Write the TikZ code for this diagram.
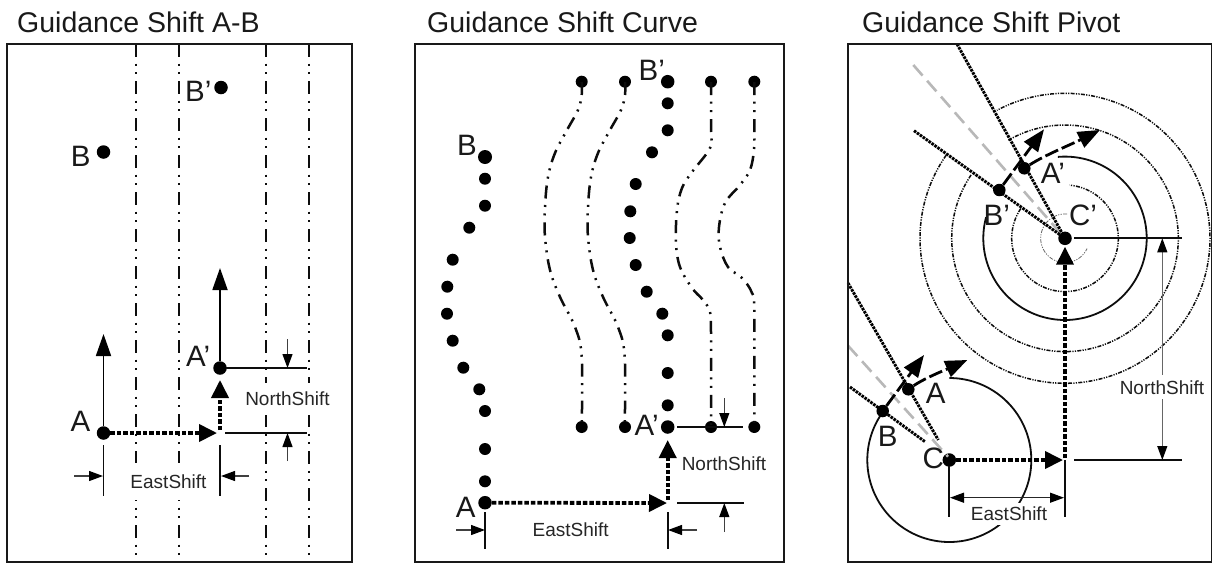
\documentclass[tikz,border=0pt]{standalone}
\usepackage{fontspec}
\setmainfont{Liberation Sans}
\usetikzlibrary{arrows.meta}
\tikzset{
 x=1pt,y=-1pt,
 panel/.style={draw=black!90,line width=1.8pt},
 dot/.style={circle,fill=black,inner sep=0pt,minimum size=13.5pt,draw=none},
 title/.style={anchor=base west,inner sep=0pt,font=\fontsize{28.5}{30}\selectfont,text=black!90},
 big/.style={inner sep=0pt,font=\fontsize{29.5}{31}\selectfont,text=black!90},
 small/.style={inner sep=0pt,font=\fontsize{19}{21}\selectfont,text=black!85},
 wbox/.style={small,fill=white,inner xsep=2pt},
 guide/.style={line width=2.9pt,black!95,dash pattern=on 13pt off 6.5pt on 2pt off 6.5pt on 2pt off 7pt},
 guidecurve/.style={line width=2.5pt,black!95,dash pattern=on 13pt off 6.5pt on 2pt off 6.5pt on 2pt off 7pt},
 guidethin/.style={line width=1.5pt,black!95,dash pattern=on 4pt off 1.3pt on 1.2pt off 1.3pt on 1.2pt off 1.3pt},
 guidefaint/.style={line width=.8pt,black!60,dash pattern=on 4pt off 1.3pt on 1.2pt off 1.3pt on 1.2pt off 1.3pt},
 solidarrow/.style={line width=1.8pt,-{Triangle[length=22pt,width=15pt]}},
 shiftarrow/.style={line width=3.8pt,dash pattern=on 4.5pt off 2pt,-{Triangle[length=18pt,width=17pt]}},
 ext/.style={line width=1.7pt,black!95},
 dimarrow/.style={line width=1.2pt,black!75,-{Triangle[length=14pt,width=10pt,fill=black,color=black]}},
 dimboth/.style={line width=1.2pt,black!60,{Triangle[length=14pt,width=10pt,fill=black,color=black]}-{Triangle[length=14pt,width=10pt,fill=black,color=black]}},
 radial/.style={line width=2.9pt,black,dash pattern=on 2.6pt off 1pt},
 grayline/.style={line width=2.6pt,black!28,dash pattern=on 14pt off 7pt},
 movearrow/.style={line width=2.8pt,dash pattern=on 14pt off 4pt,-{Triangle[length=22pt,width=17pt]}},
 ring/.style={line width=1.8pt,black!95},
}
% centre x, centre y, radius, start angle, end angle (screen angles, counter-clockwise), style
\newcommand{\ringarc}[6]{\draw[#6] plot[domain=#4:#5,samples=180,smooth] ({#1+#3*cos(\x)},{#2-#3*sin(\x)});}
\begin{document}
\begin{tikzpicture}
\useasboundingbox (0,0) rectangle (1212,563);
\fill[white] (0,0) rectangle (1212,563);
% titles
\node[title] (t1) at (17,32) {Guidance Shift A-B};
\node[title] (t2) at (427,32) {Guidance Shift Curve};
\node[title] (t3) at (862,32) {Guidance Shift Pivot};
% --- panel 1 ---
\foreach \xx in {136,179,266,309}{\draw[guide] (\xx,44) -- (\xx,562);}
\node[wbox,minimum height=37pt,minimum width=80pt] (es1) at (168.5,481.5) {EastShift};
\node[wbox,minimum height=32pt,minimum width=88pt] (ns1) at (287.5,399) {NorthShift};
\draw[panel] (7,44) rectangle (352,562);
\node[dot] (a1) at (103.5,433) {};
\node[dot] (a1p) at (220,368) {};
\node[dot] (b1) at (103.5,152) {};
\node[dot] (b1p) at (221,87.5) {};
\node[big] (la1) at (80.5,421) {A};
\node[big] (lb1) at (80.7,156.7) {B};
\node[big,anchor=west] (lb1p) at (185,91) {B’};
\node[big,anchor=west] (la1p) at (186,356) {A’};
\coordinate (a1up) at (103.5,334);
\coordinate (a1pup) at (220,268);
\coordinate (a1e) at (217,433);
\coordinate (a1s) at (220,430);
\coordinate (a1n) at (220,380);
\draw[solidarrow] (a1) -- (a1up);
\draw[solidarrow] (a1p) -- (a1pup);
\draw[shiftarrow] (a1) -- (a1e);
\draw[shiftarrow] (a1s) -- (a1n);
\coordinate (p1a) at (226,368); \coordinate (p1b) at (307,368);
\coordinate (p1c) at (225,433); \coordinate (p1d) at (307,433);
\draw[ext] (p1a) -- (p1b);
\draw[ext] (p1c) -- (p1d);
\coordinate (p1e) at (287.5,339); \coordinate (p1f) at (287.5,368);
\coordinate (p1g) at (287.5,461); \coordinate (p1h) at (287.5,433);
\draw[dimarrow] (p1e) -- (p1f);
\draw[dimarrow] (p1g) -- (p1h);
\coordinate (p1i) at (103.5,445); \coordinate (p1j) at (103.5,496);
\coordinate (p1k) at (220,445); \coordinate (p1l) at (220,496);
\draw[ext] (p1i) -- (p1j);
\draw[ext,line width=2.2pt] (p1k) -- (p1l);
\coordinate (p1m) at (74,476); \coordinate (p1n) at (103,476);
\coordinate (p1o) at (249,476); \coordinate (p1p) at (221,476);
\draw[dimarrow] (p1m) -- (p1n);
\draw[dimarrow] (p1o) -- (p1p);
% --- panel 2 ---
\draw[panel] (415,44) rectangle (784,562);
\node[dot,minimum size=14pt] (m0) at (485,157) {};
\foreach \i/\xx/\yy in {2/485/178.7,3/485/205.7,4/469.3/227.7,5/452.7/259.7,6/447.3/286.7,7/447/313.7,8/452.7/340.7,9/463.3/367.7,10/479.3/389.3,11/485/411,12/485/449,13/485/481.3}{
  \node[dot,minimum size=12pt] (m\i) at (\xx,\yy) {};}
\node[dot] (a2) at (485,502.7) {};
\foreach \i/\xx/\yy in {1/667.7/103.3,2/667.7/130.3,3/652/152.3,4/635.7/184,5/630.3/211.3,6/629.7/238,7/635.7/265,8/646.7/291.7,9/662.3/313.7,10/667.7/335.3,11/667.7/373,12/667.7/405.3}{
  \node[dot,minimum size=12pt] (n\i) at (\xx,\yy) {};}
\node[dot] (b2p) at (667.7,81.7) {};
\node[dot] (a2p) at (667.7,427) {};
\foreach \i/\xx in {1/581.7,2/625,3/711,4/754.3}{
  \node[dot,minimum size=12pt] (top\i) at (\xx,81.7) {};
  \node[dot,minimum size=12pt] (bot\i) at (\xx,427) {};}
\draw[guidecurve] plot[smooth,tension=0.6] coordinates {(581.7,82)(581.7,95)(578,110)(567,130)(555,153)(548,177)(545,207)(545,237)(550,270)(560,297)(575,327)(581.7,357)(581.7,427)};
\draw[guidecurve] plot[smooth,tension=0.6] coordinates {(625,82)(625,95)(621,110)(610,130)(598,153)(591,177)(588,207)(588,237)(593,270)(603,297)(618,327)(624.7,357)(624.7,427)};
\draw[guidecurve] plot[smooth,tension=0.6] coordinates {(711,82)(711,130)(710,148)(692,172)(682,188)(677,210)(676,243)(680,267)(692,288)(703,300)(710,312)(711,333)(711,427)};
\draw[guidecurve] plot[smooth,tension=0.6] coordinates {(754.3,82)(754.3,130)(754,150)(750,170)(740,185)(725,203)(719,227)(720,247)(728,267)(742,278)(752,293)(754.3,312)(754.3,427)};
\node[big] (lb2) at (467,145.7) {B};
\node[big] (lb2p) at (651.7,70) {B’};
\node[big] (la2p) at (646.7,425) {A’};
\node[big] (la2) at (465.7,507) {A};
\node[small] (es2) at (570.7,530) {EastShift};
\node[small] (ns2) at (724,464) {NorthShift};
\coordinate (a2e) at (667,503);
\coordinate (a2s) at (667.7,500);
\coordinate (a2n) at (667.7,440);
\draw[shiftarrow] (a2) -- (a2e);
\draw[shiftarrow] (a2s) -- (a2n);
\coordinate (p2a) at (677,427); \coordinate (p2b) at (743,427);
\coordinate (p2c) at (677,503); \coordinate (p2d) at (744,503);
\draw[ext] (p2a) -- (p2b);
\draw[ext] (p2c) -- (p2d);
\coordinate (p2e) at (724.3,398); \coordinate (p2f) at (724.3,427);
\coordinate (p2g) at (724.3,532); \coordinate (p2h) at (724.3,503);
\draw[dimarrow] (p2e) -- (p2f);
\draw[dimarrow] (p2g) -- (p2h);
\coordinate (p2i) at (485,512); \coordinate (p2j) at (485,549);
\coordinate (p2k) at (667.7,512); \coordinate (p2l) at (667.7,549);
\draw[ext] (p2i) -- (p2j);
\draw[ext] (p2k) -- (p2l);
\coordinate (p2m) at (456,530); \coordinate (p2n) at (485,530);
\coordinate (p2o) at (697,530); \coordinate (p2p) at (668,530);
\draw[dimarrow] (p2m) -- (p2n);
\draw[dimarrow] (p2o) -- (p2p);
% --- panel 3 ---
\ringarc{1065}{238.3}{24.3}{85}{335}{guidefaint}
\ringarc{1065}{238.3}{53.3}{-214}{85}{guidethin}
\ringarc{1065}{238.3}{81.7}{-195}{95}{ring}
\ringarc{1065}{238.3}{113.3}{-214}{120}{guidethin}
\ringarc{1065}{238.3}{145}{-215}{118}{guidethin}
\ringarc{949.3}{460}{82}{-217}{90}{ring}
% guide radials round C'
\node[dot] (cp) at (1065,238.3) {};
\node[dot,minimum size=12.5pt] (ap) at (1024.3,168.3) {};
\node[dot,minimum size=12.5pt] (bp) at (999.3,190) {};
\coordinate (apend) at (957,44);
\coordinate (bpend) at (914,130.7);
\coordinate (gpend) at (913.3,65);
\draw[grayline] (gpend) -- (cp.center);
\draw[radial] (apend) -- (cp.center);
\draw[radial] (bpend) -- (cp.center);
% guide radials round C
\coordinate (aend) at (848,283);
\coordinate (bend) at (850,387);
\coordinate (gend) at (848,345.7);
\coordinate (ain) at (938.3,440);
\coordinate (bin) at (925,441.7);
\coordinate (gin) at (948,456.7);
\draw[radial] (aend) -- (ain);
\draw[radial] (bend) -- (bin);
\node[dot] (c3) at (949.3,460) {};
\draw[grayline] (gend) -- (gin);
\node[dot,minimum size=12.5pt] (a3) at (908.3,389.3) {};
\node[dot,minimum size=12.5pt] (b3) at (882.7,411) {};
% move arrows
\coordinate (apt) at (1044,129.3);
\coordinate (aqt) at (1100,130);
\coordinate (at) at (924,355);
\coordinate (aqq) at (967.3,360);
\draw[movearrow] (bp) -- (apt);
\draw[movearrow] (ap) .. controls (1045,155) and (1070,145) .. (aqt);
\draw[movearrow] (b3) -- (at);
\draw[movearrow] (a3) .. controls (925,378) and (945,370) .. (aqq);
% labels
\node[big] (lap) at (1053,173) {A’};
\node[big] (lbp) at (996.7,215) {B’};
\node[big] (lcp) at (1083,215) {C’};
\node[big] (la3) at (935.7,393.3) {A};
\node[big] (lb3) at (887.7,436) {B};
\node[big] (lc3) at (933.3,458) {C};
% shift arrows
\coordinate (c3e) at (1063,460);
\coordinate (c3s) at (1065,458);
\coordinate (c3n) at (1065,246.7);
\draw[shiftarrow] (c3) -- (c3e);
\draw[shiftarrow] (c3s) -- (c3n);
% dimensions
\coordinate (p3a) at (1074,238.3); \coordinate (p3b) at (1182,238.3);
\coordinate (p3c) at (1074,460); \coordinate (p3d) at (1182,460);
\draw[ext] (p3a) -- (p3b);
\draw[ext] (p3c) -- (p3d);
\coordinate (p3e) at (1162.3,238.3); \coordinate (p3f) at (1162.3,460);
\draw[dimboth] (p3e) -- (p3f);
\coordinate (p3g) at (949.3,466); \coordinate (p3h) at (949.3,516.7);
\coordinate (p3i) at (1065,460); \coordinate (p3j) at (1065,516.7);
\draw[ext] (p3g) -- (p3h);
\draw[ext] (p3i) -- (p3j);
\coordinate (p3k) at (950,497.7); \coordinate (p3l) at (1064,497.7);
\draw[dimboth,black!85] (p3k) -- (p3l);
\node[wbox,minimum height=24pt] (ns3) at (1162,387.3) {NorthShift};
\node[wbox,minimum height=22pt,inner xsep=0pt] (es3) at (1009,514) {EastShift};
\draw[panel] (848,44) -- (1211.5,44) -- (1211.5,562) -- (848,562) -- cycle;
\end{tikzpicture}
\end{document}
